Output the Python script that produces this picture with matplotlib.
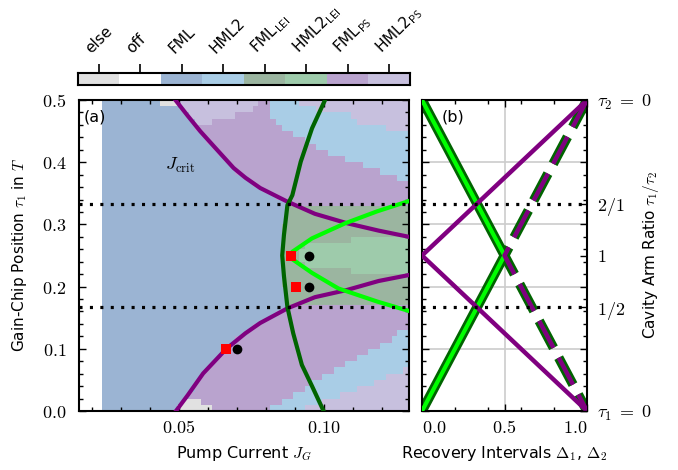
import numpy as np
import matplotlib
matplotlib.use('Agg')
import matplotlib.pyplot as plt
from matplotlib.colors import ListedColormap
from matplotlib.ticker import MultipleLocator, FixedLocator
import matplotlib.transforms as mtransforms

plt.rcParams['mathtext.fontset'] = 'cm'
plt.rcParams['font.family'] = ['DejaVu Sans']
plt.rcParams['lines.scale_dashes'] = False

# ---------------- data ----------------
cat_codes = ['e', 'o', 'F', 'H', 'L', 'l', 'P', 'p']
cat_labels = ['else', 'off', 'FML', 'HML2', 'FML$_\\mathsf{LEI}$', 'HML2$_\\mathsf{LEI}$',
              'FML$_\\mathsf{PS}$', 'HML2$_\\mathsf{PS}$']
cat_colors = ['#e1e1e1', '#ffffff', '#9bb4d3', '#a9cde6', '#9bb5a0', '#9ecbab', '#b9a3ce', '#c7c0de']

# regime map (run-length coded rows, top row = largest tau1), x from 0.0155 to 0.1295
map_x = (0.0155, 0.1295)
map_y = (0.0, 0.5)
map_rows = [
    "o4 F10 e3 p14 P2 H5 p19",
    "o4 F14 p12 P3 H8 p16",
    "o4 F15 p8 P6 H14 p10",
    "o4 F16 p3 P11 H14 p9",
    "o4 F16 P15 H18 p4",
    "o4 F17 P16 H20",
    "o4 F18 P17 H18",
    "o4 F19 P18 H16",
    "o4 F20 P19 H14",
    "o4 F21 P21 H11",
    "o4 F22 P23 H8",
    "o4 F23 P25 H5",
    "o4 F25 P26 H2",
    "o4 F26 P27",
    "o4 F28 P25",
    "o4 F30 P23",
    "o4 F32 P21",
    "o4 F32 L21",
    "o4 F32 L21",
    "o4 F32 L21",
    "o4 F31 L22",
    "o4 F31 L22",
    "o4 F31 L12 l10",
    "o4 F31 L4 l18",
    "o4 F31 L3 l19",
    "o4 F31 L3 l19",
    "o4 F31 L4 l18",
    "o4 F31 L12 l10",
    "o4 F31 L22",
    "o4 F31 L22",
    "o4 F32 L21",
    "o4 F32 L21",
    "o4 F32 L21",
    "o4 F32 P21",
    "o4 F30 P23",
    "o4 F28 P25",
    "o4 F26 P27",
    "o4 F25 P26 H2",
    "o4 F23 P27 H3",
    "o4 F22 P26 H5",
    "o4 F21 P25 H7",
    "o4 F20 P24 H9",
    "o4 F19 P23 H11",
    "o4 F18 P22 H12 p1",
    "o4 F17 P21 H11 p4",
    "o4 F16 P20 H11 p6",
    "o4 F16 P19 H9 p9",
    "o4 F15 P18 H8 p12",
    "o4 F14 e3 P14 H7 p15",
    "o4 F13 e6 P10 H6 p18",
]

# J_crit curve
jc_up_x = [0.0488, 0.0530, 0.0574, 0.0622, 0.0689, 0.0730, 0.0781, 0.0873, 0.0970, 0.1080, 0.1190, 0.1295]
jc_up_y = [0.500, 0.475, 0.4497, 0.425, 0.3907, 0.375, 0.3585, 0.337, 0.317, 0.302, 0.290, 0.280]
jc_lo_x = [0.0490, 0.0530, 0.0584, 0.0664, 0.0730, 0.0781, 0.0875, 0.0970, 0.1080, 0.1190, 0.1295]
jc_lo_y = [0.000, 0.025, 0.0605, 0.100, 0.125, 0.1415, 0.165, 0.183, 0.1945, 0.209, 0.2186]
# dark green boundary
dg_x = [0.1005, 0.0960, 0.0921, 0.0892, 0.0875, 0.0863, 0.0857, 0.0863, 0.0875, 0.0895, 0.0925, 0.0960, 0.1000]
dg_y = [0.500, 0.4545, 0.4008, 0.347, 0.331, 0.283, 0.250, 0.217, 0.167, 0.125, 0.074, 0.040, 0.000]
# light green boundaries
lg_up_x = [0.0886, 0.0892, 0.0960, 0.1074, 0.1185, 0.1295]
lg_up_y = [0.250, 0.256, 0.2776, 0.3017, 0.321, 0.3376]
lg_lo_x = [0.0886, 0.0892, 0.0960, 0.1051, 0.1185, 0.1295]
lg_lo_y = [0.250, 0.244, 0.222, 0.197, 0.176, 0.1608]
# markers
sq_x = [0.0886, 0.0905, 0.0664]
sq_y = [0.250, 0.200, 0.100]
dot_x = [0.0950, 0.0950, 0.0700]
dot_y = [0.250, 0.200, 0.100]
ratio_lines = [1/3, 1/6]

# panel b
b_y = [0.5, 0.25, 0.0]
b_green_x = [0.0, 0.5, 0.0]
b_purple_x = [1.0, 0.0, 1.0]
b_dash_x = [1.0, 0.5, 1.0]
ratio_ticks = [0.0, 1/6, 0.25, 1/3, 0.5]
ratio_labels = ['$\\tau_1\\;=\\;0$', '$1/2$', '$1$', '$2/1$', '$\\tau_2\\;=\\;0$']

# ---------------- figure ----------------
W, H = 678, 470
fig = plt.figure(figsize=(W/100, H/100), dpi=100)

def rect(l, t, r, b):
    return [l/W, 1 - b/H, (r-l)/W, (b-t)/H]

ax_a = fig.add_axes(rect(79, 100, 409, 411))
ax_b = fig.add_axes(rect(422, 100, 587, 411))
ax_c = fig.add_axes(rect(78, 73, 410, 85))

cmap = ListedColormap(cat_colors)
grid = []
for row in map_rows:
    cells = []
    for tok in row.split():
        cells += [cat_codes.index(tok[0])] * int(tok[1:])
    grid.append(cells)
grid = np.array(grid)
ax_a.imshow(grid, cmap=cmap, vmin=-0.5, vmax=len(cat_codes)-0.5, origin='upper',
            extent=(map_x[0], map_x[1], map_y[0], map_y[1]), aspect='auto',
            interpolation='nearest', zorder=0)

purple = '#800080'
dgreen = '#006400'
lime = '#00ff00'
dot_ls = (0, (2.2, 5.3))

ax_a.plot(jc_up_x, jc_up_y, color=purple, lw=3, zorder=3)
ax_a.plot(jc_lo_x, jc_lo_y, color=purple, lw=3, zorder=3)
ax_a.plot(dg_x, dg_y, color=dgreen, lw=3, zorder=4)
ax_a.plot(lg_up_x, lg_up_y, color=lime, lw=3, zorder=4)
ax_a.plot(lg_lo_x, lg_lo_y, color=lime, lw=3, zorder=4)
for r in ratio_lines:
    ax_a.axhline(r, color='black', lw=2.3, ls=dot_ls, zorder=5)
    ax_b.axhline(r, color='black', lw=2.3, ls=dot_ls, zorder=5)
ax_a.plot(sq_x, sq_y, 's', color='red', ms=7.5, mew=0, zorder=6)
ax_a.plot(dot_x, dot_y, 'o', color='black', ms=7, mew=0, zorder=6)

tick_fs = 13
ax_a.set_xlim(map_x)
ax_a.set_ylim(map_y)
ax_a.set_xticks([0.05, 0.10])
ax_a.set_xticklabels(['$0.05$', '$0.10$'], fontsize=tick_fs)
ax_a.xaxis.set_minor_locator(MultipleLocator(0.01))
ax_a.set_yticks(np.arange(0, 0.51, 0.1))
ax_a.set_yticklabels(['$%.1f$' % v for v in np.arange(0, 0.51, 0.1)], fontsize=tick_fs)
ax_a.yaxis.set_minor_locator(MultipleLocator(0.02))
ax_a.set_xlabel('Pump Current $J_G$', fontsize=11.5)
ax_a.set_ylabel('Gain-Chip Position $\\tau_1$ in $T$', fontsize=11)
ax_a.yaxis.set_label_coords(-0.15, 0.5)
ax_a.xaxis.set_label_coords(0.5, -0.105)
ax_a.text(0.0172, 0.472, '(a)', fontsize=11.5, va='center', ha='left', zorder=7)
ax_a.text(0.0505, 0.395, '$J_\\mathrm{crit}$', fontsize=13, ha='center', va='center', zorder=7)

# panel b
ax_b.grid(True, which='major', color='#cccccc', lw=1.2, zorder=0)
ax_b.plot(b_green_x, b_y, color=dgreen, lw=7, solid_joinstyle='miter', zorder=2)
ax_b.plot(b_green_x, b_y, color=lime, lw=3, solid_joinstyle='miter', zorder=3)
ax_b.plot(b_purple_x, b_y, color=purple, lw=3.2, zorder=4)
ax_b.plot(b_dash_x, b_y, color=dgreen, lw=7, ls=(0, (22, 8)), zorder=2)
ax_b.plot(b_dash_x, b_y, color=purple, lw=3.2, ls=(0, (22, 8)), zorder=4)
ax_b.set_xlim(0, 1)
ax_b.set_ylim(0, 0.5)
ax_b.set_xticks([0, 0.5, 1])
ax_b.set_xticklabels(['$0.0$', '$0.5$', '$1.0$'], fontsize=tick_fs)
lbls = ax_b.get_xticklabels()
lbls[0].set_ha('left')
lbls[2].set_ha('right')
ax_b.xaxis.set_minor_locator(FixedLocator([0.2, 0.4, 0.6, 0.8]))
ax_b.set_yticks(np.arange(0, 0.51, 0.1))
ax_b.yaxis.set_minor_locator(MultipleLocator(0.02))
ax_b.tick_params(axis='y', labelleft=False)
ax_b.set_xlabel('Recovery Intervals $\\Delta_1$, $\\Delta_2$', fontsize=11.5)
ax_b.xaxis.set_label_coords(0.5, -0.105)
ax_b.text(0.19, 0.472, '(b)', fontsize=11.5, va='center', ha='center', zorder=7)

ax_r = ax_b.twinx()
ax_r.set_ylim(0, 0.5)
ax_r.set_yticks(ratio_ticks)
ax_r.set_yticklabels(ratio_labels, fontsize=tick_fs)
ax_r.tick_params(axis='y', direction='in', length=5, width=1, pad=7)
ax_r.set_ylabel('Cavity Arm Ratio $\\tau_1/\\tau_2$', fontsize=11)
ax_r.yaxis.set_label_coords(1.33, 0.5)
for s in ax_r.spines.values():
    s.set_visible(False)

for ax in (ax_a, ax_b):
    ax.tick_params(which='both', direction='in', top=True, right=True, width=1)
    ax.tick_params(which='major', length=5, pad=6)
    ax.tick_params(which='minor', length=3)
    for s in ax.spines.values():
        s.set_linewidth(1.5)
ax_a.tick_params(axis='y', which='major', pad=9)

# category bar
ax_c.imshow(np.arange(len(cat_codes))[None, :], cmap=cmap, vmin=-0.5, vmax=len(cat_codes)-0.5,
            aspect='auto', extent=(-0.5, len(cat_codes)-0.5, 0, 1), interpolation='nearest')
ax_c.set_xlim(-0.5, len(cat_codes)-0.5)
ax_c.set_xticks(range(len(cat_codes)))
ax_c.set_xticklabels([])
ax_c.set_yticks([])
ax_c.tick_params(axis='x', top=True, bottom=False, direction='out', length=6.5, width=1.2,
                 labeltop=False, labelbottom=False)
for s in ax_c.spines.values():
    s.set_linewidth(1.5)
for i, lab in enumerate(cat_labels):
    tr = mtransforms.offset_copy(ax_c.get_xaxis_transform(), fig=fig, x=-5.5, y=14, units='points')
    ax_c.text(i, 1, lab, transform=tr, rotation=45, ha='left', va='baseline',
              rotation_mode='anchor', fontsize=11)

fig.savefig('out.png', dpi=100)
